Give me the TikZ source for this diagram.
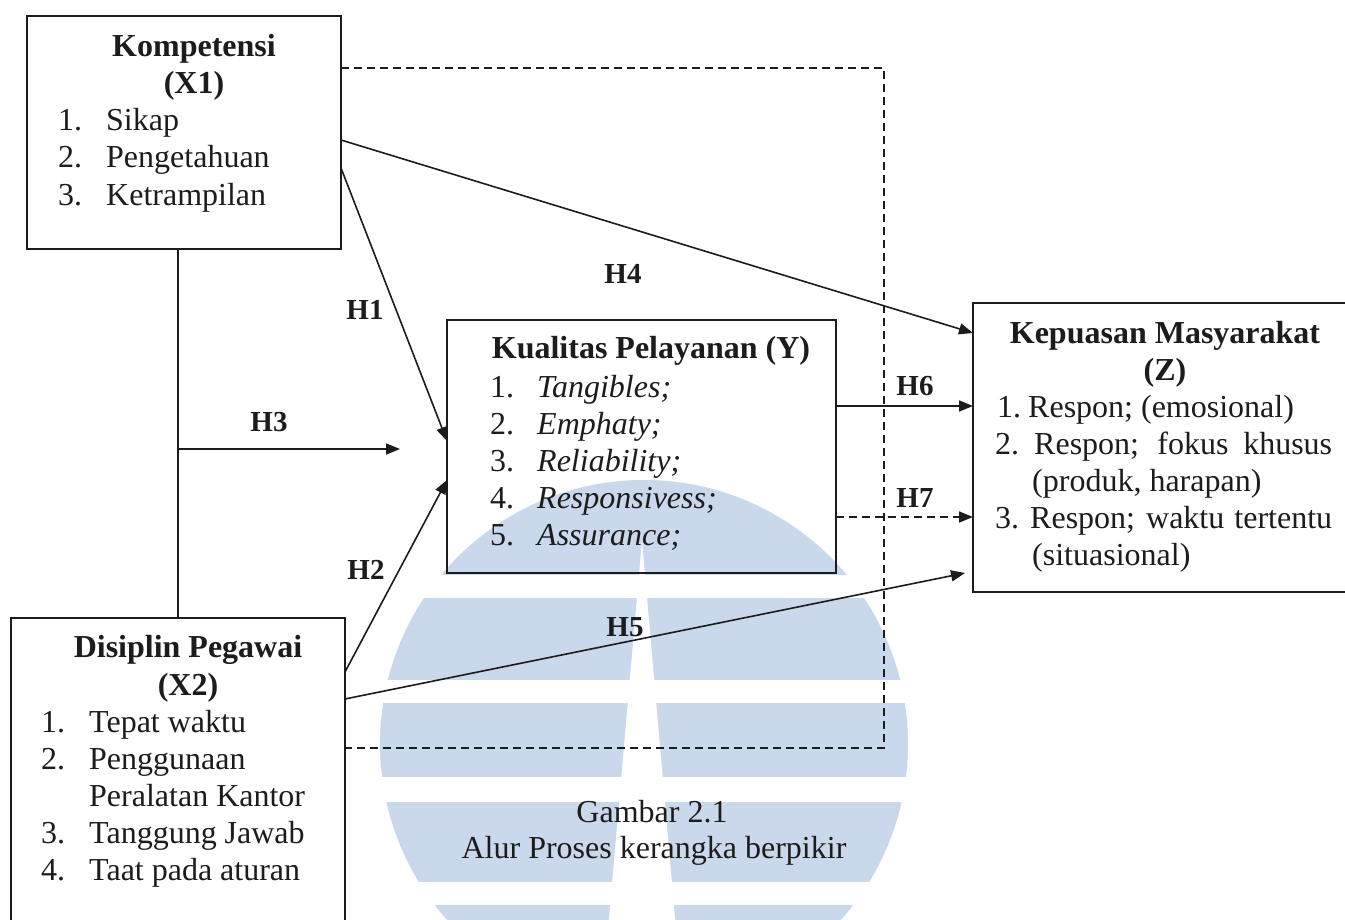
\documentclass[tikz,border=0pt]{standalone}
\usepackage{fontspec}
\setmainfont{Liberation Serif}
\usetikzlibrary{arrows.meta,calc}
\definecolor{ink}{HTML}{1C1C1C}
\definecolor{wmblue}{HTML}{C9D8EA}

\begin{document}
\begin{tikzpicture}[x=1pt,y=-1pt,
  box/.style={draw=ink, line width=1.7pt, outer sep=0pt, inner sep=0pt},
  link/.style={draw=ink, line width=1.6pt},
  arr/.style={link, -{Triangle[length=14pt,width=11pt]}},
  dsh/.style={link, dash pattern=on 8pt off 5pt},
  txt/.style={anchor=base west, inner sep=0pt, text=ink, font=\fontsize{32}{37}\selectfont},
  itx/.style={txt, font=\itshape\fontsize{32}{37}\selectfont},
  ttl/.style={anchor=base, inner sep=0pt, text=ink, font=\bfseries\fontsize{32}{37}\selectfont},
  captxt/.style={anchor=base, inner sep=0pt, text=ink, font=\fontsize{32}{37}\selectfont},
  hlab/.style={anchor=center, inner sep=0pt, text=ink, font=\bfseries\fontsize{29}{34}\selectfont},
]
\useasboundingbox (0,0) rectangle (1345,920);
\fill[white] (0,0) rectangle (1345,920);

% emblem in the background: striped disc with a tapering slit
\fill[wmblue] (644,744) circle[radius=264pt];
\foreach \ya/\yb in {575/598, 680/703, 777/802, 882/905, 985/1008}
  \fill[white] (370,\ya) rectangle (920,\yb);
\fill[white] (642,540) -- (683,1010) -- (601,1010) -- cycle;

% boxes
\node[box, minimum width=314pt, minimum height=233pt] (x1) at (184,132.5) {};
\node[box, minimum width=334pt, minimum height=317pt] (x2) at (178,776.5) {};
\node[box, minimum width=389pt, minimum height=253pt] (y) at (641.5,446.5) {};
\node[box, minimum width=377pt, minimum height=289pt] (z) at (1161.5,447.5) {};

% Kompetensi (X1)
\node[ttl] (x1t) at (194,57) {Kompetensi};
\node[ttl] (x1s) at (194,94) {(X1)};
\node[txt] (x1n1) at (58,131) {1.};
\node[txt] (x1a) at (106,131) {Sikap};
\node[txt] (x1n2) at (58,168) {2.};
\node[txt] (x1b) at (106,168) {Pengetahuan};
\node[txt] (x1n3) at (58,206) {3.};
\node[txt] (x1c) at (106,206) {Ketrampilan};

% Disiplin Pegawai (X2)
\node[ttl] (x2t) at (188,657) {Disiplin Pegawai};
\node[ttl] (x2s) at (188,695) {(X2)};
\node[txt] (x2n1) at (41,732) {1.};
\node[txt] (x2a) at (89,732) {Tepat waktu};
\node[txt] (x2n2) at (41,769) {2.};
\node[txt] (x2b) at (89,769) {Penggunaan};
\node[txt] (x2b2) at (89,806) {Peralatan Kantor};
\node[txt] (x2n3) at (41,843) {3.};
\node[txt] (x2c) at (89,843) {Tanggung Jawab};
\node[txt] (x2n4) at (41,880) {4.};
\node[txt] (x2d) at (89,880) {Taat pada aturan};

% Kualitas Pelayanan (Y)
\node[ttl] (yt) at (651,358) {Kualitas Pelayanan (Y)};
\node[txt] (yn1) at (490,397) {1.};
\node[itx] (ya) at (537,397) {Tangibles;};
\node[txt] (yn2) at (490,434) {2.};
\node[itx] (yb) at (537,434) {Emphaty;};
\node[txt] (yn3) at (490,471) {3.};
\node[itx] (yc) at (537,471) {Reliability;};
\node[txt] (yn4) at (490,508) {4.};
\node[itx] (yd) at (537,508) {Responsivess;};
\node[txt] (yn5) at (490,545) {5.};
\node[itx] (ye) at (537,545) {Assurance;};

% Kepuasan Masyarakat (Z)
\node[ttl] (zt) at (1165,343) {Kepuasan Masyarakat};
\node[ttl] (zs) at (1165,380) {(Z)};
\node[txt] (zn1) at (997,417) {1.};
\node[txt] (za) at (1028,417) {Respon; (emosional)};
\node[txt] (zn2) at (995,454) {2.};
\node[txt] (zb) at (1034,454) {\makebox[298pt][s]{Respon; fokus khusus}};
\node[txt] (zb2) at (1032,491) {(produk, harapan)};
\node[txt] (zn3) at (995,528) {3.};
\node[txt] (zc) at (1030,528) {\makebox[302pt][s]{Respon; waktu tertentu}};
\node[txt] (zc2) at (1032,565) {(situasional)};

% connectors
\coordinate (h3s) at (178,449);
\coordinate (h3e) at (400,449);
\coordinate (dcorner) at (884,748);
\draw[link] (x1.south -| x2.north) -- (x2.north);
\draw[arr] (h3s) -- (h3e);
\draw[arr] ([yshift=-152pt]x1.north east) -- ([yshift=-121pt]y.north west);
\draw[arr] ([yshift=-54pt]x2.north east) -- ([yshift=-160pt]y.north west);
\draw[arr] ([yshift=-124pt]x1.north east) -- ([yshift=-30pt]z.north west);
\draw[arr] ([yshift=-81pt]x2.north east) -- ([xshift=-8pt,yshift=-270pt]z.north west);
\draw[arr] ([yshift=-86pt]y.north east) -- ([yshift=-103pt]z.north west);
\draw[dsh, -{Triangle[length=14pt,width=11pt]}] ([yshift=-197pt]y.north east) -- ([yshift=-214pt]z.north west);
\draw[dsh] ([yshift=-52pt]x1.north east) -| (dcorner) -- ([yshift=-130pt]x2.north east);

% hypothesis labels
\node[hlab] (h1) at (365,310) {H1};
\node[hlab] (h2) at (366,570) {H2};
\node[hlab] (h3) at (269,422) {H3};
\node[hlab] (h4) at (623,274) {H4};
\node[hlab] (h5) at (625,627) {H5};
\node[hlab] (h6) at (915,386) {H6};
\node[hlab] (h7) at (915,498) {H7};

% caption
\node[captxt] (cap1) at (652,822) {Gambar 2.1};
\node[captxt] (cap2) at (654,858) {Alur Proses kerangka berpikir};
\end{tikzpicture}
\end{document}
